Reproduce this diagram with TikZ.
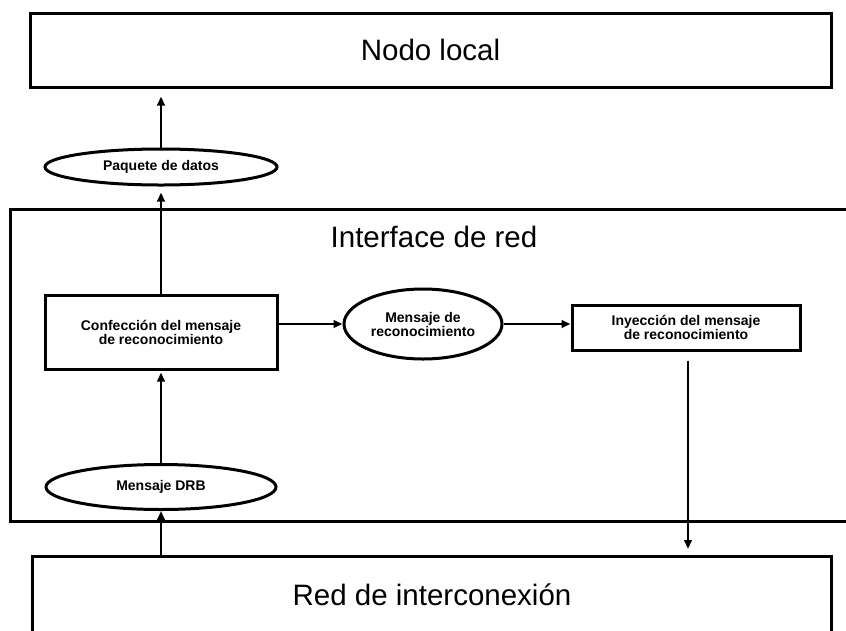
\documentclass[tikz,border=0pt]{standalone}
\usepackage{fontspec}
\setmainfont{Liberation Sans}
\usetikzlibrary{shapes.geometric,arrows.meta}

\tikzset{
  x=1pt, y=-1pt,
  frame/.style={line width=3pt, line join=miter},
  box/.style={draw, frame, rectangle, inner sep=0pt, align=center,
    font=\fontsize{14}{14}\selectfont\bfseries},
  oval/.style={draw, frame, ellipse, inner sep=0pt, align=center,
    font=\fontsize{14}{14}\selectfont\bfseries},
  title/.style={inner sep=0pt, font=\fontsize{29.5}{32}\selectfont},
  flow/.style={line width=2.5pt, -{Triangle[length=9pt,width=7.5pt]}},
}

\begin{document}
\begin{tikzpicture}
  \useasboundingbox (0,0) rectangle (846,630);

  % outer layers
  \node[box, minimum width=801, minimum height=74] (nodo) at (430.5,50) {};
  \node[title] (nodot) at (nodo.center) {Nodo local};

  \draw[frame] (846,209) -- (10,209) -- (10,521) -- (846,521);
  \node[title] (ifz) at (434,237) {Interface de red};

  \draw[frame] (32,632) -- (32,556) -- (831,556) -- (831,632);
  \node[title] (red) at (432,595) {Red de interconexión};
  \coordinate (redtopA) at (161,556);
  \coordinate (redtopB) at (688,556);

  % interface internals
  \node[oval, minimum width=232, minimum height=36] (pq) at (161,167) {Paquete de datos};
  \node[box, minimum width=232, minimum height=74] (conf) at (161,332)
    {Confección del mensaje\\de reconocimiento};
  \node[oval, minimum width=158, minimum height=70] (rec) at (423,324)
    {Mensaje de\\reconocimiento};
  \node[box, minimum width=228, minimum height=45] (iny) at (686,327.5)
    {Inyección del mensaje\\de reconocimiento};
  \node[oval, minimum width=230, minimum height=45] (drb) at (161,487) {Mensaje DRB};

  % connectors
  \draw[flow, shorten >=8pt] (pq.north) -- (pq.north |- nodo.south);
  \draw[flow, shorten >=6pt] (conf.north) -- (pq.south);
  \draw[flow] (conf.east |- rec.west) -- (rec.west);
  \draw[flow] (rec.east) -- (rec.east -| iny.west);
  \draw[flow, shorten >=2pt] (drb.north) -- (conf.south);
  \draw[flow] (redtopA) -- (drb.south);
  \draw[flow, shorten <=9pt, shorten >=7pt] (iny.south -| redtopB) -- (redtopB);
\end{tikzpicture}
\end{document}
